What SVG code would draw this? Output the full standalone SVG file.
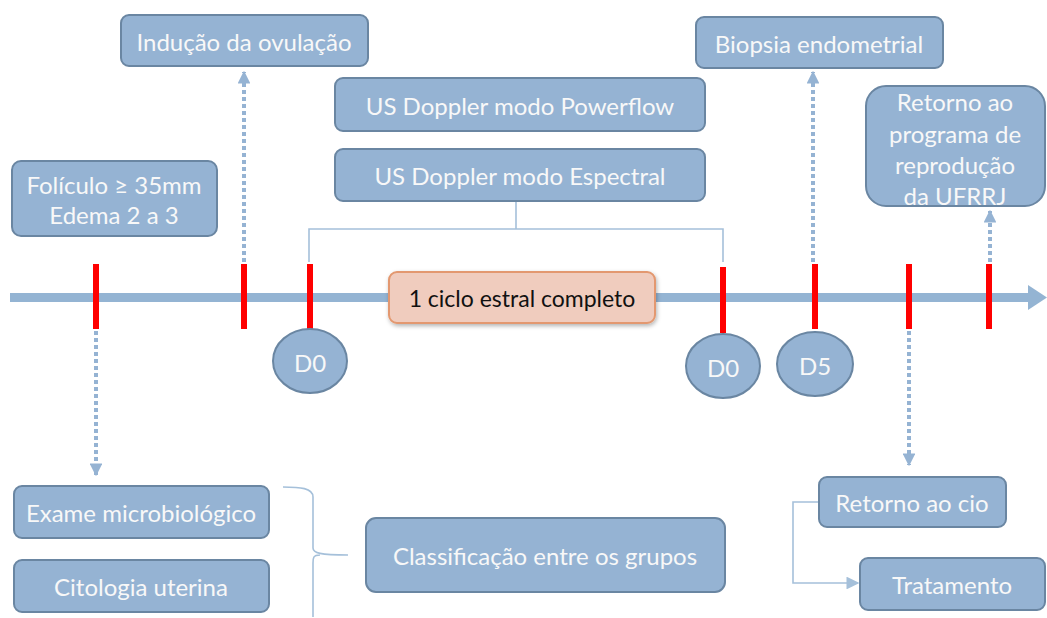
<svg xmlns="http://www.w3.org/2000/svg" width="1047" height="618" viewBox="0 0 1047 618">
<defs>
<style>
.box{fill:#95b3d3;stroke:#6a86a2;stroke-width:2}
.lbl{font-family:Lato,"Open Sans","Liberation Sans",sans-serif;font-size:24px;fill:#f8f8f8;text-anchor:middle;dominant-baseline:central}
.tick{fill:#ff0000}
.dot{stroke:#95b3d3;stroke-width:4;stroke-dasharray:4 3;fill:none}
.thin{stroke:#a5c0da;stroke-width:1.6;fill:none}
.ell{fill:#95b3d3;stroke:#6a86a2;stroke-width:2}
</style>
<marker id="ah" viewBox="0 0 10 10" refX="9" refY="5" markerWidth="3.2" markerHeight="3.2" orient="auto" markerUnits="strokeWidth">
<path d="M0,0 L10,5 L0,10 z" fill="#95b3d3"/>
</marker>
<marker id="ah2" viewBox="0 0 10 10" refX="9" refY="5" markerWidth="8" markerHeight="8" orient="auto" markerUnits="strokeWidth">
<path d="M0,0 L10,5 L0,10 z" fill="#a5c0da"/>
</marker>
<filter id="sh" x="-10%" y="-20%" width="120%" height="150%">
<feDropShadow dx="1" dy="2" stdDeviation="2" flood-color="#000" flood-opacity="0.3"/>
</filter>
</defs>
<rect width="1047" height="618" fill="#ffffff"/>

<g id="timeline">
<rect x="10" y="293" width="1022" height="9" fill="#94b4d3"/>
<path d="M1028,285 L1047,297.5 L1028,310 z" fill="#94b4d3"/>
</g>

<g id="connectors">
<line class="dot" x1="244" y1="262" x2="244" y2="72" marker-end="url(#ah)"/>
<line class="dot" x1="813" y1="262" x2="813" y2="72" marker-end="url(#ah)"/>
<line class="dot" x1="990" y1="262" x2="990" y2="211" marker-end="url(#ah)"/>
<line class="dot" x1="96" y1="331" x2="96" y2="475" marker-end="url(#ah)"/>
<line class="dot" x1="909" y1="331" x2="909" y2="465" marker-end="url(#ah)"/>
<path class="thin" d="M516,201 V229 M309,262 V229 H723 V262"/>
<path class="thin" d="M283,487 C300,487 313,488 313,497 V548 C313,553 320,555 348,555 M320,555 C313,555 313,558 313,563 V617"/>
<path class="thin" d="M819,502 H793 V583 H858" marker-end="url(#ah2)"/>
</g>

<g id="ticks">
<rect class="tick" x="93" y="264" width="6" height="65"/>
<rect class="tick" x="241" y="264" width="6" height="65"/>
<rect class="tick" x="307" y="264" width="6" height="65"/>
<rect class="tick" x="720" y="267" width="6" height="66"/>
<rect class="tick" x="812" y="264" width="6" height="65"/>
<rect class="tick" x="906" y="264" width="6" height="65"/>
<rect class="tick" x="986" y="264" width="6" height="65"/>
</g>

<g id="n-inducao"><rect class="box" x="121" y="15" width="247" height="51" rx="8"/><text class="lbl" x="244" y="41">Indução da ovulação</text></g>
<g id="n-foliculo"><rect class="box" x="12" y="161" width="205" height="75" rx="9"/><text class="lbl" x="114" y="184">Folículo ≥ 35mm</text><text class="lbl" x="114" y="214">Edema 2 a 3</text></g>
<g id="n-powerflow"><rect class="box" x="335" y="78" width="370" height="53" rx="8"/><text class="lbl" x="520" y="105">US Doppler modo Powerflow</text></g>
<g id="n-espectral"><rect class="box" x="335" y="149" width="370" height="52" rx="8"/><text class="lbl" x="520" y="175">US Doppler modo Espectral</text></g>
<g id="n-biopsia"><rect class="box" x="696" y="17" width="247" height="51" rx="8"/><text class="lbl" x="819" y="43">Biopsia endometrial</text></g>
<g id="n-retorno-prog"><rect class="box" x="866" y="86" width="179" height="120" rx="20"/><text class="lbl" x="955" y="101">Retorno ao</text><text class="lbl" x="955" y="133">programa de</text><text class="lbl" x="955" y="164">reprodução</text><text class="lbl" x="955" y="195">da UFRRJ</text></g>
<g id="n-ciclo"><rect x="389" y="272" width="266" height="51" rx="8" fill="#f0ccbe" stroke="#e3986f" stroke-width="2" filter="url(#sh)"/><text class="lbl" x="522" y="298" style="fill:#111;font-size:23px">1 ciclo estral completo</text></g>
<g id="n-d0a"><ellipse class="ell" cx="310" cy="361" rx="37" ry="32"/><text class="lbl" x="310" y="362">D0</text></g>
<g id="n-d0b"><ellipse class="ell" cx="723" cy="366" rx="37" ry="32"/><text class="lbl" x="723" y="367">D0</text></g>
<g id="n-d5"><ellipse class="ell" cx="815" cy="364" rx="38" ry="32"/><text class="lbl" x="815" y="365">D5</text></g>
<g id="n-exame"><rect class="box" x="14" y="486" width="255" height="52" rx="8"/><text class="lbl" x="141" y="512">Exame microbiológico</text></g>
<g id="n-citologia"><rect class="box" x="14" y="560" width="255" height="52" rx="8"/><text class="lbl" x="141" y="586">Citologia uterina</text></g>
<g id="n-classificacao"><rect class="box" x="366" y="518" width="359" height="74" rx="10"/><text class="lbl" x="545" y="555">Classificação entre os grupos</text></g>
<g id="n-retorno-cio"><rect class="box" x="819" y="477" width="187" height="50" rx="8"/><text class="lbl" x="912" y="502">Retorno ao cio</text></g>
<g id="n-tratamento"><rect class="box" x="860" y="558" width="185" height="52" rx="8"/><text class="lbl" x="952" y="584">Tratamento</text></g>
</svg>
